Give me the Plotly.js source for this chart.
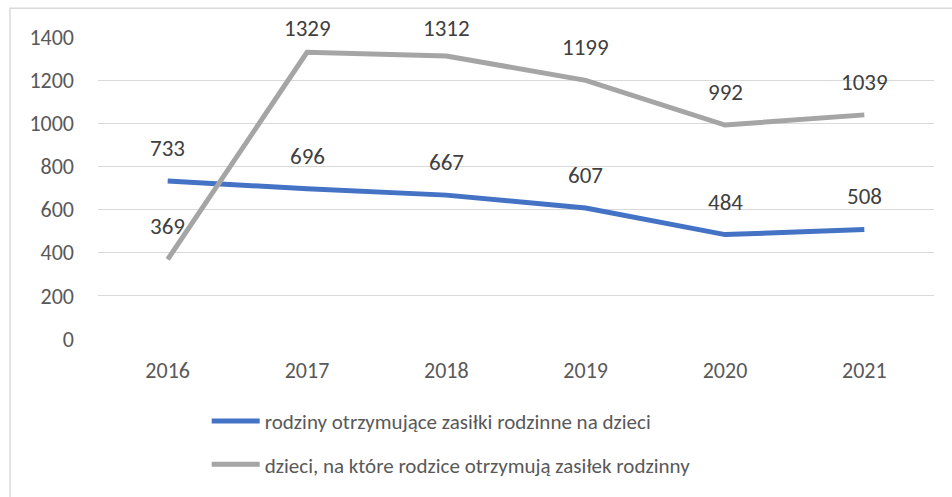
<!DOCTYPE html>
<html>
<head>
<meta charset="utf-8">
<script src="https://cdn.plot.ly/plotly-3.0.1.min.js"></script>
<style>
    html, body { margin: 0; padding: 0; background: #fff; }
    #chart { width: 952px; height: 497px; }
</style>
</head>
<body>
<div id="chart"></div>
<script>
const YEARS = ['2016', '2017', '2018', '2019', '2020', '2021'];
const FAMILIES = [733, 696, 667, 607, 484, 508];
const CHILDREN = [369, 1329, 1312, 1199, 992, 1039];
const SERIES_NAMES = [
    'rodziny otrzymujące zasiłki rodzinne na dzieci',
    'dzieci, na które rodzice otrzymują zasiłek rodzinny',
];

const FONT = 'Carlito, Calibri, Lato, sans-serif';
const BLUE = '#4472C4';
const GREY = '#A5A5A5';

const Y_MAX = 1400;
const PLOT_TOP = 37;
const PLOT_HEIGHT = 304;

function lineTrace(values, name, color, group) {
    return {
        x: YEARS,
        y: values,
        name,
        legendgroup: group,
        type: 'scatter',
        mode: 'lines',
        line: { color, width: 5 },
        hoverinfo: 'skip',
    };
}

// labels sit ~33px above the point, but Excel keeps them from leaving the chart top
function labelsFor(values) {
    return values.map((value, index) => {
        const pointTop = PLOT_TOP + PLOT_HEIGHT * (1 - value / Y_MAX);
        const shift = Math.min(33, pointTop - 28);
        return {
            x: index,
            y: value,
            text: String(value),
            showarrow: false,
            yshift: shift,
            font: { family: FONT, size: 23, color: '#404040' },
        };
    });
}

const frame = {
    type: 'path',
    xref: 'paper',
    yref: 'paper',
    path: 'M -0.1053,-0.6 L -0.1053,1.0954 L 1.03,1.0954',
    line: { color: '#D9D9D9', width: 1.5 },
};

Plotly.newPlot('chart', [
    lineTrace(FAMILIES, SERIES_NAMES[0], BLUE, 'a'),
    lineTrace(CHILDREN, SERIES_NAMES[1], GREY, 'b'),
], {
    width: 952,
    height: 497,
    margin: { t: PLOT_TOP, r: 18, b: 156, l: 98 },
    paper_bgcolor: '#fff',
    plot_bgcolor: '#fff',
    font: { family: FONT, size: 20, color: '#595959' },
    xaxis: {
        type: 'category',
        range: [-0.5, 5.5],
        showgrid: false,
        zeroline: false,
        showline: false,
        ticks: '',
        ticklabelstandoff: 16,
        tickfont: { family: FONT, size: 22, color: '#595959' },
    },
    yaxis: {
        range: [0, Y_MAX],
        dtick: 200,
        showgrid: true,
        gridcolor: '#D9D9D9',
        gridwidth: 1,
        zeroline: false,
        showline: false,
        ticks: '',
        ticklabelstandoff: 23,
        tickfont: { family: FONT, size: 22, color: '#595959' },
    },
    showlegend: true,
    legend: {
        orientation: 'v',
        x: 0.13,
        y: -0.205,
        xanchor: 'left',
        yanchor: 'top',
        font: { family: FONT, size: 21, color: '#595959' },
        tracegroupgap: 13,
        itemwidth: 48,
    },
    annotations: [...labelsFor(FAMILIES), ...labelsFor(CHILDREN)],
    shapes: [frame],
}, {
    displayModeBar: false,
    staticPlot: true,
});
</script>
</body>
</html>
